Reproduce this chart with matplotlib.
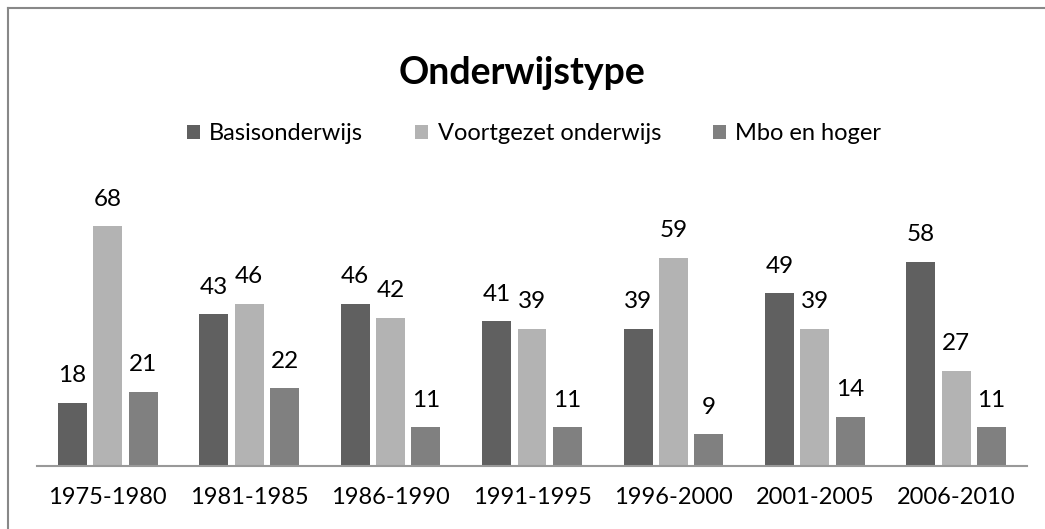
import numpy as np
import matplotlib.pyplot as plt
from matplotlib.lines import Line2D

# data
periods = ["1975-1980", "1981-1985", "1986-1990", "1991-1995",
           "1996-2000", "2001-2005", "2006-2010"]
basis = [18, 43, 46, 41, 39, 49, 58]
voortgezet = [68, 46, 42, 39, 59, 39, 27]
mbo = [21, 22, 11, 11, 9, 14, 11]

series = [
    ("Basisonderwijs", basis, "#606060"),
    ("Voortgezet onderwijs", voortgezet, "#b3b3b3"),
    ("Mbo en hoger", mbo, "#808080"),
]

plt.rcParams["font.family"] = ["Lato", "DejaVu Sans"]

fig = plt.figure(figsize=(10.45, 5.29), dpi=100)
ax = fig.add_axes([37 / 1045, 1 - 466 / 529, 990 / 1045, 282 / 529])

x = np.arange(len(periods))
width = 0.205
offset = 0.25

for i, (name, vals, col) in enumerate(series):
    bars = ax.bar(x + (i - 1) * offset, vals, width, color=col, label=name)
    for b, v in zip(bars, vals):
        ax.annotate(str(v), (b.get_x() + b.get_width() / 2, v),
                    xytext=(0, 12), textcoords="offset points",
                    ha="center", va="bottom", fontsize=17.5, color="black")

ax.set_xlim(-0.5, len(periods) - 0.5)
ax.set_ylim(0, 80)
ax.set_xticks(x)
ax.set_xticklabels(periods, fontsize=17)
ax.tick_params(axis="x", length=0, pad=15)
ax.set_yticks([])
for s in ["top", "right", "left"]:
    ax.spines[s].set_visible(False)
ax.spines["bottom"].set_color("#999999")
ax.spines["bottom"].set_linewidth(1.5)

fig.text(0.5, 1 - 73 / 529, "Onderwijstype", ha="center", va="center",
         fontsize=27, fontweight="bold")

fig.legend(loc="center", bbox_to_anchor=(0.511, 1 - 134 / 529), ncol=3,
           frameon=False, fontsize=17, handlelength=0.55, handleheight=0.55,
           handletextpad=0.4, columnspacing=2.2)

# chart frame (left and top edges visible)
fig.add_artist(Line2D([7.5 / 1045, 7.5 / 1045], [0, 1 - 8 / 529],
                      transform=fig.transFigure, color="#888888", lw=1.5))
fig.add_artist(Line2D([7.5 / 1045, 1], [1 - 8 / 529, 1 - 8 / 529],
                      transform=fig.transFigure, color="#888888", lw=1.5))

plt.savefig("out.png", dpi=100)
